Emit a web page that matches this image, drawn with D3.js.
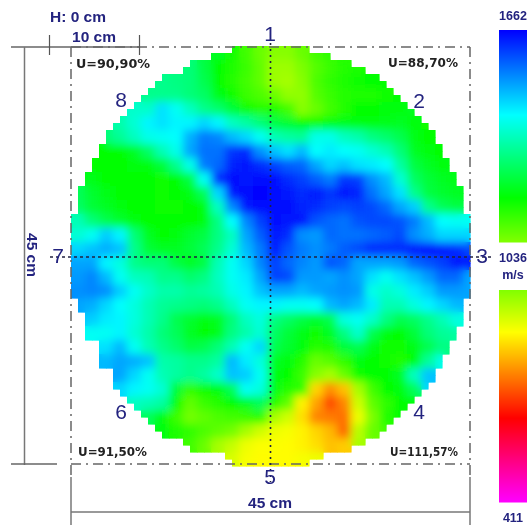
<!DOCTYPE html>
<html>
    <head>
        <meta charset="utf-8">
        <script src="https://d3js.org/d3.v7.min.js"></script>
        <style>
            html, body { margin: 0; padding: 0; background: #fff; }
            svg { display: block; filter: blur(0.45px); }
            text { font-family: "Liberation Sans", Arial, sans-serif; }
        </style>
    </head>

    <body>
        <svg id="chart" width="531" height="525"></svg>
        <script>
            // colour bar: velocity stops (m/s) and the colours at them
            const velocityStops= [411, 658, 912, 1036, 1166, 1411, 1662];
            const stopColors= ["#ff00ff", "#ff0000", "#ffff00", "#80ff00", "#00ff00", "#00ffff", "#0000ff"];
            const scaleLabels= ["1662", "1036", "m/s", "411"];
            const spokeLabels= ["1", "2", "3", "4", "5", "6", "7", "8"];
            const cornerLabels= ["U=90,90%", "U=88,70%", "U=91,50%", "U=111,57%"];
            const _= null;

            // velocity in m/s, one row per two grid rows, _ = no reading
            const velocity= [
                [_,_,_,_,_,_,_,_,_,_,1200,1150,1100,1060,1030,1030,1060,1100,1120,_,_,_,_,_,_,_,_,_,_],
                [_,_,_,_,_,_,_,_,1280,1230,1170,1140,1110,1070,1010,1010,1040,1080,1110,1130,1140,_,_,_,_,_,_,_,_],
                [_,_,_,_,_,_,1300,1290,1280,1240,1170,1130,1100,1070,1010,1000,1030,1090,1120,1140,1150,1160,1160,_,_,_,_,_,_],
                [_,_,_,_,_,1300,1300,1300,1280,1260,1190,1150,1110,1090,1060,1020,1020,1080,1110,1130,1140,1140,1150,1170,1180,_,_,_,_],
                [_,_,_,_,1360,1360,1440,1400,1350,1300,1270,1220,1150,1130,1140,1100,1030,1060,1100,1130,1160,1170,1180,1180,1200,1180,_,_,_],
                [_,_,_,1330,1370,1420,1440,1420,1420,1450,1420,1350,1320,1280,1230,1210,1170,1150,1180,1190,1180,1180,1190,1200,1180,1150,1140,_,_],
                [_,_,1280,1310,1350,1390,1400,1410,1490,1540,1530,1480,1450,1400,1340,1320,1310,1390,1390,1350,1330,1290,1270,1240,1190,1160,1150,1150,_],
                [_,1200,1170,1170,1200,1260,1340,1390,1500,1550,1550,1610,1620,1520,1470,1440,1480,1410,1430,1410,1400,1370,1340,1280,1200,1180,1170,1170,_],
                [1200,1160,1160,1160,1180,1180,1220,1300,1390,1540,1560,1630,1640,1620,1600,1570,1560,1500,1450,1470,1440,1430,1410,1320,1230,1200,1180,1180,_],
                [1230,1190,1170,1160,1160,1160,1150,1170,1230,1400,1620,1650,1640,1650,1650,1620,1600,1570,1540,1610,1600,1520,1480,1370,1260,1220,1200,1190,1190],
                [1250,1210,1190,1170,1160,1160,1150,1160,1190,1250,1450,1640,1650,1660,1650,1640,1620,1640,1610,1640,1630,1550,1500,1440,1300,1230,1210,1200,1200],
                [1260,1220,1200,1180,1160,1160,1150,1150,1160,1180,1350,1530,1640,1650,1650,1650,1630,1620,1600,1590,1600,1590,1560,1500,1460,1300,1250,1230,1230],
                [1340,1280,1240,1210,1180,1170,1160,1170,1170,1180,1290,1410,1530,1600,1650,1640,1640,1580,1560,1550,1580,1590,1590,1580,1540,1480,1410,1400,1400],
                [1370,1400,1460,1420,1280,1200,1170,1180,1210,1230,1290,1350,1500,1570,1640,1620,1520,1510,1560,1550,1550,1560,1570,1590,1520,1490,1450,1450,1450],
                [1450,1470,1490,1470,1300,1220,1200,1200,1220,1250,1300,1370,1480,1540,1640,1580,1540,1520,1540,1570,1590,1620,1620,1620,1640,1650,1640,1620,1590],
                [1500,1500,1420,1380,1300,1280,1280,1230,1200,1230,1340,1400,1450,1530,1600,1560,1530,1510,1580,1560,1500,1500,1500,1510,1560,1580,1600,1640,1640],
                [1510,1530,1480,1400,1350,1340,1300,1300,1270,1290,1350,1400,1430,1500,1600,1590,1510,1510,1500,1520,1500,1440,1400,1440,1470,1510,1560,1560,1500],
                [1520,1530,1520,1460,1400,1360,1330,1330,1310,1320,1340,1390,1420,1470,1500,1500,1480,1500,1510,1520,1510,1390,1360,1380,1430,1460,1510,1510,1500],
                [1500,1490,1450,1410,1380,1340,1310,1300,1290,1280,1300,1350,1400,1420,1420,1400,1400,1410,1480,1500,1480,1430,1340,1340,1380,1420,1450,1480,_],
                [_,1460,1430,1420,1380,1340,1300,1240,1210,1190,1200,1280,1350,1380,1290,1260,1230,1210,1240,1380,1400,1360,1290,1240,1260,1300,1340,1380,_],
                [_,1400,1400,1420,1370,1330,1280,1250,1200,1170,1190,1290,1330,1370,1260,1220,1190,1150,1200,1290,1360,1240,1180,1170,1220,1280,1310,1320,_],
                [_,_,1440,1480,1400,1340,1300,1270,1230,1240,1280,1340,1400,1450,1240,1210,1180,1130,1140,1220,1240,1190,1150,1150,1190,1240,1290,_,_],
                [_,_,1480,1500,1490,1470,1330,1320,1300,1300,1320,1480,1430,1380,1200,1180,1130,1060,1080,1120,1180,1170,1150,1140,1170,1310,1390,_,_],
                [_,_,_,1500,1450,1400,1340,1320,1300,1320,1360,1470,1460,1400,1190,1170,1110,1030,1000,1060,1150,1170,1170,1200,1350,1470,_,_,_],
                [_,_,_,1450,1420,1400,1370,1220,1120,1150,1180,1250,1400,1380,1190,1130,1120,870,800,850,1000,1100,1170,1180,1250,1450,_,_,_],
                [_,_,_,_,1350,1340,1320,1170,1070,1110,1130,1160,1200,1250,1130,1070,900,820,730,790,960,1070,1120,1160,1170,_,_,_,_],
                [_,_,_,_,_,1250,1180,1110,1050,1070,1090,1100,1110,1130,1000,960,880,790,780,770,930,1040,1130,1160,_,_,_,_,_],
                [_,_,_,_,_,_,1180,1140,1120,1090,1070,1050,1000,960,930,920,900,870,840,760,980,1060,1100,_,_,_,_,_,_],
                [_,_,_,_,_,_,_,_,1100,1060,1000,970,930,915,915,910,900,880,850,860,1000,_,_,_,_,_,_,_,_],
                [_,_,_,_,_,_,_,_,_,_,_,950,920,910,910,910,920,930,_,_,_,_,_,_,_,_,_,_,_]
            ];

            const svg= d3.select("#chart");
            const ink= "#23237f";

            // the map: 57 x 60 cells inside the dash-dot square
            const cellsX= d3.range(57);
            const cellsY= d3.range(60);
            const x= d3.scaleBand().domain(cellsX).range([71, 470]);
            const y= d3.scaleBand().domain(cellsY).range([46, 466]);
            const color= d3.scaleLinear().domain(velocityStops).range(stopColors).clamp(true);
            const centerX= 270.5, centerY= 256, radiusX= 199.5, radiusY= 210;

            function insideDisc(i, j) {
                let dx= (x(i) + x.bandwidth() / 2 - centerX) / radiusX;
                let dy= (y(j) + y.bandwidth() / 2 - centerY) / radiusY;
                return dx * dx + dy * dy <= 1;
            }

            let cells= [];
            for (let j of cellsY) {
                for (let i of cellsX) {
                    let v= velocity[Math.floor(j / 2)][Math.floor(i / 2)];
                    if (v != null && insideDisc(i, j)) {
                        cells.push({i: i, j: j, v: v});
                    }
                }
            }

            function drawCells(parent) {
                parent.selectAll("rect").data(cells).join("rect")
                    .attr("x", d => x(d.i))
                    .attr("y", d => y(d.j))
                    .attr("width", x.bandwidth() + 0.5)
                    .attr("height", y.bandwidth() + 0.5)
                    .attr("fill", d => color(d.v));
            }

            // soften the readings, but keep the stepped edge of the disc
            const defs= svg.append("defs");
            defs.append("filter").attr("id", "soft")
                .attr("filterUnits", "userSpaceOnUse")
                .attr("x", 40).attr("y", 20).attr("width", 460).attr("height", 480)
                .append("feGaussianBlur").attr("stdDeviation", 4.5);
            defs.append("clipPath").attr("id", "disc").selectAll("rect").data(cells).join("rect")
                .attr("x", d => x(d.i))
                .attr("y", d => y(d.j))
                .attr("width", x.bandwidth() + 0.5)
                .attr("height", y.bandwidth() + 0.5);

            drawCells(svg.append("g"));
            drawCells(svg.append("g").attr("clip-path", "url(#disc)")
                .append("g").attr("filter", "url(#soft)"));

            function line(x1, y1, x2, y2, stroke, width, dash) {
                return svg.append("line")
                    .attr("x1", x1).attr("y1", y1)
                    .attr("x2", x2).attr("y2", y2)
                    .attr("stroke", stroke)
                    .attr("stroke-width", width)
                    .attr("stroke-dasharray", dash || null);
            }

            // dash-dot square and dotted cross
            const dashDot= "10 5 2 5";
            line(71, 47, 470, 47, "#666", 1.5, dashDot);
            line(71, 464, 470, 464, "#666", 1.5, dashDot);
            line(71, 47, 71, 476, "#666", 1.5, dashDot);
            line(470, 47, 470, 476, "#666", 1.5, dashDot);
            line(270.5, 43, 270.5, 482, "#222240", 1.6, "2 4");
            line(50, 257, 492, 257, "#222240", 1.4, "3 3");

            // dimension lines
            line(11, 47, 139, 47, "#666", 1.5);
            line(49.5, 35, 49.5, 55, "#555", 1.2);
            line(139.5, 35, 139.5, 55, "#555", 1.2);
            line(24.5, 47, 24.5, 465, "#777", 1.5);
            line(11, 464, 57, 464, "#666", 1.5);
            line(71, 477, 71, 525, "#777", 1.5);
            line(470, 477, 470, 525, "#777", 1.5);
            line(71, 512, 470, 512, "#777", 1.5);

            // numbers round the disc, 1 to 8 clockwise
            const spokeX= [270, 419, 482, 419, 270, 121, 58, 121];
            const spokeY= [33, 100, 255, 411, 476, 411, 255, 99];
            svg.append("g").selectAll("text").data(spokeLabels).join("text")
                .attr("x", (d, i) => spokeX[i])
                .attr("y", (d, i) => spokeY[i])
                .attr("dy", "0.36em")
                .attr("text-anchor", "middle")
                .attr("font-size", 21)
                .attr("fill", ink)
                .text(d => d);

            // corner labels
            const cornerX= [76, 388, 78, 390];
            const cornerY= [64, 63, 452, 452];
            const cornerW= [74, 70, 69, 68];
            svg.append("g").selectAll("text").data(cornerLabels).join("text")
                .attr("x", (d, i) => cornerX[i])
                .attr("y", (d, i) => cornerY[i])
                .attr("dy", "0.36em")
                .attr("textLength", (d, i) => cornerW[i])
                .attr("lengthAdjust", "spacingAndGlyphs")
                .attr("font-size", 12)
                .attr("font-weight", "bold")
                .attr("fill", "#222")
                .style("font-family", "'DejaVu Sans'")
                .text(d => d);

            function label(tx, ty, s, size, anchor) {
                return svg.append("text")
                    .attr("x", tx).attr("y", ty)
                    .attr("dy", "0.36em")
                    .attr("text-anchor", anchor || "middle")
                    .attr("font-size", size)
                    .attr("font-weight", "bold")
                    .attr("fill", ink)
                    .text(s);
            }

            label(78, 16, "H: 0 cm", 15.5);
            label(94, 36, "10 cm", 15.5);
            label(270, 502, "45 cm", 15.5);
            label(0, 0, "45 cm", 15.5).attr("transform", "translate(33,255) rotate(90)");

            // colour bar, split in two parts at the middle value
            const barTop= d3.scaleLinear().domain([1662, 1036]).range([30, 242]);
            const barBottom= d3.scaleLinear().domain([1036, 411]).range([290, 502]);
            for (let bar of [barTop, barBottom]) {
                let rows= d3.range(bar.range()[0], bar.range()[1]);
                svg.append("g").selectAll("rect").data(rows).join("rect")
                    .attr("x", 499)
                    .attr("y", d => d)
                    .attr("width", 28)
                    .attr("height", 1.5)
                    .attr("fill", d => color(bar.invert(d + 0.5)));
            }

            const scaleLabelY= [15, 257, 274, 517];
            scaleLabels.forEach((s, i) => label(513, scaleLabelY[i], s, 12.5));
        </script>
    </body>
</html>
